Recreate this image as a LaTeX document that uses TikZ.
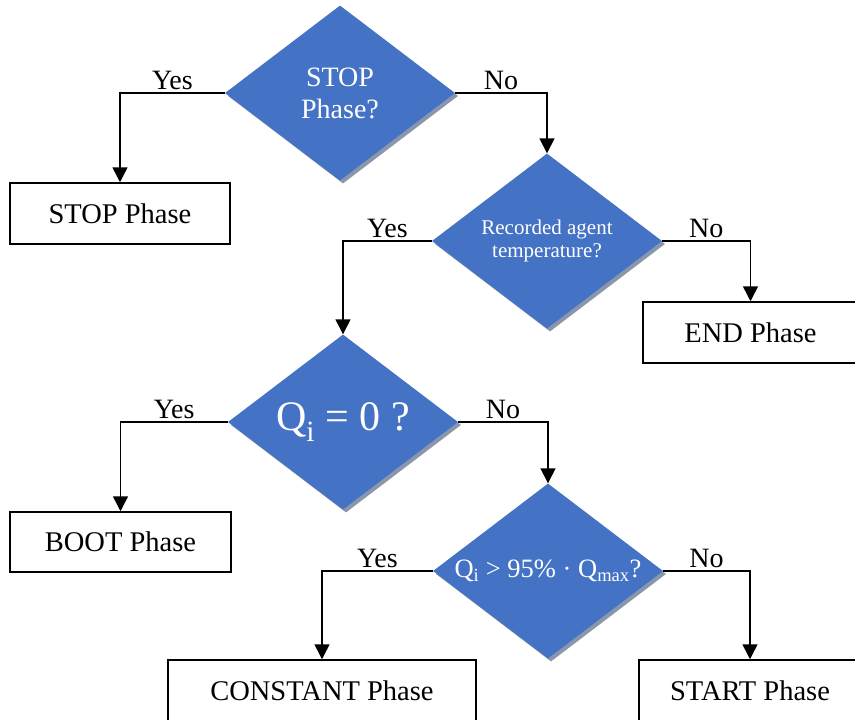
\documentclass[tikz,border=0pt]{standalone}
\usepackage{fontspec}
\setmainfont{Liberation Serif}
\usetikzlibrary{shapes.geometric,arrows.meta,shadows}
\definecolor{dblue}{RGB}{68,114,196}
\definecolor{shgray}{RGB}{138,150,172}
\tikzset{
  dec/.style={shape=diamond, fill=dblue, draw=none, text=white, align=center,
    minimum width=230pt, minimum height=175pt, inner sep=0pt, aspect=1.314,
    drop shadow={shadow xshift=3pt, shadow yshift=-3pt, fill=shgray, opacity=1}},
  phasebox/.style={draw=black, line width=1.5pt, fill=white, inner sep=0pt,
    font=\fontsize{28.5}{32}\selectfont},
  arr/.style={line width=1.5pt, -{Triangle[length=15pt,width=15pt]}},
  lab/.style={font=\fontsize{28}{32}\selectfont, inner sep=2.5pt, above}
}
\begin{document}
\begin{tikzpicture}[x=1pt,y=-1pt]
\useasboundingbox (0,0) rectangle (855,720);
\clip (0,0) rectangle (855,720);

\node[dec, font=\fontsize{28}{32}\selectfont] (d1) at (340,93) {STOP\\Phase?};
\node[dec, font=\fontsize{21}{23.5}\selectfont] (d2) at (547,241) {Recorded agent\\temperature?};
\node[dec, font=\fontsize{42}{46}\selectfont] (d3) at (343,422) {Q\textsubscript{i} = 0 ?};
\node[dec, font=\fontsize{26.5}{29}\selectfont] (d4) at (548,571) {Q\textsubscript{i} > 95\% · Q\textsubscript{max}?};

\node[phasebox, minimum width=220pt, minimum height=61pt] (stop) at (120,213.5) {STOP Phase};
\node[phasebox, minimum width=215pt, minimum height=61pt] (end) at (750.5,332.5) {END Phase};
\node[phasebox, minimum width=221pt, minimum height=60pt] (boot) at (120.5,542) {BOOT Phase};
\node[phasebox, minimum width=308pt, minimum height=62pt] (const) at (322,691) {CONSTANT Phase};
\node[phasebox, minimum width=222pt, minimum height=62pt] (start) at (750,691) {START Phase};

\draw[arr] (d1.west) -| node[lab, pos=0.25] {Yes} (stop.north);
\draw[arr] (d1.east) -| node[lab, pos=0.25] {No} (d2.north);
\draw[arr] (d2.west) -| node[lab, pos=0.25] {Yes} (d3.north);
\draw[arr] (d2.east) -| node[lab, pos=0.25] {No} (end.north);
\draw[arr] (d3.west) -| node[lab, pos=0.25] {Yes} (boot.north);
\draw[arr] (d3.east) -| node[lab, pos=0.25] {No} (d4.north);
\draw[arr] (d4.west) -| node[lab, pos=0.25] {Yes} (const.north);
\draw[arr] (d4.east) -| node[lab, pos=0.25] {No} (start.north);
\end{tikzpicture}
\end{document}
